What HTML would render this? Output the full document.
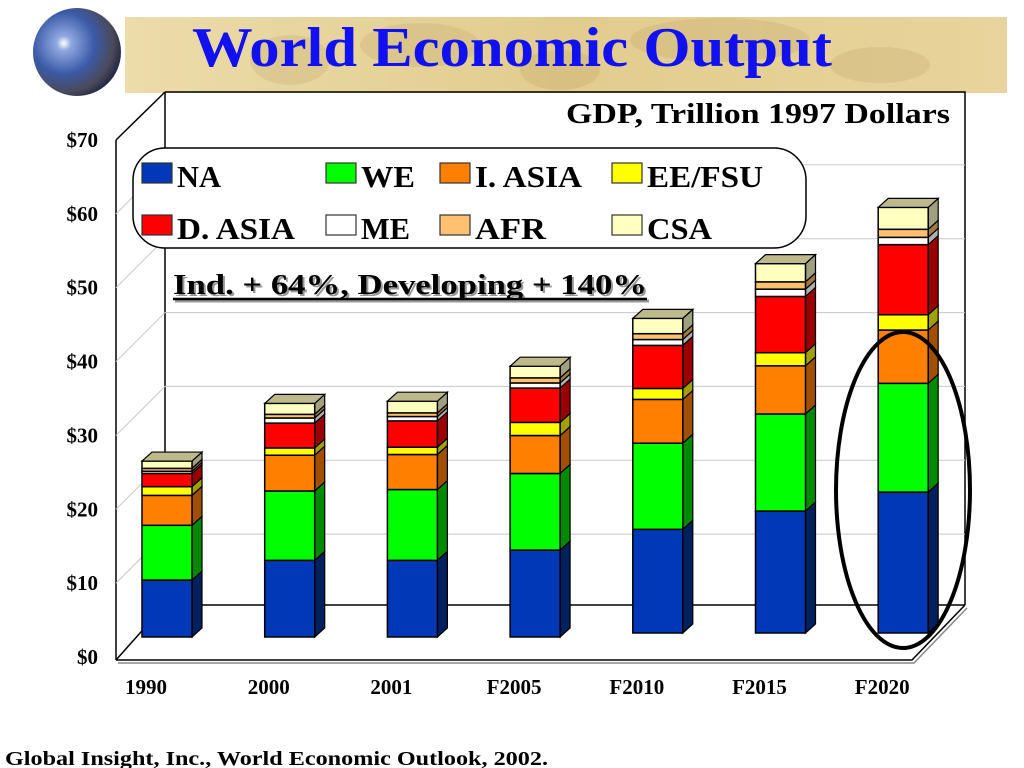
<!DOCTYPE html>
<html><head><meta charset="utf-8"><style>
html,body{margin:0;padding:0;background:#fff;}
svg{display:block;font-family:"Liberation Serif","Times New Roman",serif;font-weight:bold;}
</style></head><body>
<svg id="chart" width="1024" height="768" viewBox="0 0 1024 768" xmlns="http://www.w3.org/2000/svg">
<defs>
<radialGradient id="globe" cx="0.35" cy="0.4" r="0.7">
<stop offset="0" stop-color="#ffffff"/><stop offset="0.12" stop-color="#8fa8e0"/><stop offset="0.5" stop-color="#3b5aa8"/><stop offset="0.8" stop-color="#4a4a5a"/><stop offset="1" stop-color="#1b2040"/></radialGradient>
<linearGradient id="banner" x1="0" x2="1" y1="0" y2="0"><stop offset="0" stop-color="#ecdcaa"/><stop offset="0.5" stop-color="#e2cc8e"/><stop offset="1" stop-color="#e8d49c"/></linearGradient>
</defs>
<rect x="125" y="17" width="882" height="76" fill="url(#banner)"/>
<g opacity="0.15" fill="#a08040">
<ellipse cx="420" cy="45" rx="60" ry="22"/><ellipse cx="560" cy="70" rx="40" ry="20"/><ellipse cx="720" cy="40" rx="90" ry="22"/><ellipse cx="880" cy="65" rx="50" ry="18"/><ellipse cx="290" cy="60" rx="40" ry="25"/>
</g>
<circle cx="77" cy="52" r="44" fill="url(#globe)"/>
<text x="512" y="66" text-anchor="middle" font-size="56" fill="#1010f0" textLength="640" lengthAdjust="spacingAndGlyphs">World Economic Output</text>

<g id="frame" stroke="#000" stroke-width="1.5" fill="none"></g>
<g id="grid" stroke="#c8c8c8" stroke-width="1" fill="none"></g>
<g id="bars"></g>
<g id="yticks"></g>
<g id="xticks"></g>

<text x="950" y="123" text-anchor="end" font-size="28" textLength="384" lengthAdjust="spacingAndGlyphs">GDP, Trillion 1997 Dollars</text>

<g>
<rect x="133" y="148" width="673" height="100" rx="32" fill="#fff" stroke="#000" stroke-width="1.5"/>
<g id="legend-items"></g>
</g>

<g>
<text x="175" y="296" font-size="29" fill="#999" textLength="474" lengthAdjust="spacingAndGlyphs">Ind. + 64%,  Developing + 140%</text>
<line x1="175" y1="301" x2="649" y2="301" stroke="#999" stroke-width="3"/>
<text x="173" y="294" font-size="29" fill="#000" textLength="474" lengthAdjust="spacingAndGlyphs">Ind. + 64%,  Developing + 140%</text>
<line x1="173" y1="299" x2="647" y2="299" stroke="#000" stroke-width="2.5"/>
</g>

<ellipse cx="903" cy="490" rx="67" ry="158" fill="none" stroke="#000" stroke-width="4"/>

<text x="5" y="765" font-size="20" textLength="543" lengthAdjust="spacingAndGlyphs">Global Insight, Inc., World Economic Outlook, 2002.</text>
</svg>
<script>
const categories = ["1990","2000","2001","F2005","F2010","F2015","F2020"];
const seriesNames = ["NA","WE","I. ASIA","EE/FSU","D. ASIA","ME","AFR","CSA"];
const NA    = [7.8, 10.5, 10.5, 11.9, 14.2, 16.7, 19.3];
const WE    = [7.5, 9.5, 9.7, 10.5, 11.8, 13.3, 14.9];
const IASIA = [4.1, 4.9, 4.8, 5.2, 6.0, 6.6, 7.3];
const EEFSU = [1.2, 1.0, 1.0, 1.8, 1.5, 1.8, 2.1];
const DASIA = [1.8, 3.4, 3.6, 4.7, 5.9, 7.7, 9.6];
const ME    = [0.3, 0.7, 0.6, 0.7, 0.8, 1.0, 1.0];
const AFR   = [0.4, 0.5, 0.5, 0.7, 0.8, 1.0, 1.1];
const CSA   = [1.0, 1.5, 1.6, 1.6, 2.1, 2.5, 3.0];
const yTicks = [0,10,20,30,40,50,60,70];
const yTickLabels = ["$0","$10","$20","$30","$40","$50","$60","$70"];

const series = [NA,WE,IASIA,EEFSU,DASIA,ME,AFR,CSA];
const front = ["#0038b8","#00ff00","#ff8000","#ffff00","#ff0000","#ffffff","#ffc070","#ffffc0"];
const side  = ["#00205e","#008a00","#a05000","#a0a000","#9a0000","#b0b0b0","#a07840","#a0a080"];
const NS="http://www.w3.org/2000/svg";
function mk(tag, attrs, parent){const e=document.createElementNS(NS,tag);for(const k in attrs)e.setAttribute(k,attrs[k]);parent.appendChild(e);return e;}

// axis functions
const PX=7.3;
function base(i){return i<4 ? 637 : 633;}
function yBar(i,v){return base(i) - v*PX;}
function yAxis(v){return 657 - v*(517/70);}
function xBar(i){return 142 + i*122.7;}
const BW=50, DX=10, DY=9;

const frame=document.getElementById('frame');
const grid=document.getElementById('grid');
yTicks.forEach(t=>{
  if(t===0||t===70) return;
  const yf=yAxis(t), yb=yf-49;
  const l=mk('polyline',{points:`116,${yf} 165,${yb} 965,${yb}`},grid);
  
  
});
["116,140 116,660","165,92 165,605","165,92 965,92 965,605","116,140 165,92","165,605 965,605","116,660 165,605","116,660 912,660 965,605"].forEach(p=>{
  mk('polyline',{points:p},frame);
});
mk('polyline',{points:"118,663 914,663 967,608",stroke:"#888"},frame);

const bars=document.getElementById('bars');
categories.forEach((c,i)=>{
  const g=mk('g',{},bars);
  
  
  const x=xBar(i);
  let cum=0;
  series.forEach((s,k)=>{
    const v=s[i];
    const y0=yBar(i,cum), y1=yBar(i,cum+v);
    const seg=mk('g',{},g);
    
    
    mk('polygon',{points:`${x+BW},${y0} ${x+BW+DX},${y0-DY} ${x+BW+DX},${y1-DY} ${x+BW},${y1}`,fill:side[k],stroke:'#000','stroke-width':1.2},seg);
    mk('rect',{x:x,y:y1,width:BW,height:y0-y1,fill:front[k],stroke:'#000','stroke-width':1.5},seg);
    cum+=v;
  });
  const yt=yBar(i,cum);
  const top=mk('polygon',{points:`${x},${yt} ${x+DX},${yt-DY} ${x+BW+DX},${yt-DY} ${x+BW},${yt}`,fill:'#bdb98a',stroke:'#000','stroke-width':1.2},g);
  
  
  const t=mk('text',{x:x+4,y:694,'text-anchor':'middle','font-size':21},document.getElementById('xticks'));
  
  
  t.textContent=c;
});

yTicks.forEach((v,i)=>{
  const t=mk('text',{x:98,y:yAxis(v)+7,'text-anchor':'end','font-size':21},document.getElementById('yticks'));
  
  
  t.textContent=yTickLabels[i];
});

const lx=[142,326,440,612], lw=[44,54,107,116,118,49,71,65];
const li=document.getElementById('legend-items');
seriesNames.forEach((n,k)=>{
  const col=k%4,row=Math.floor(k/4);
  const g=mk('g',{},li);
  
  
  const sy=row?215:163;
  mk('rect',{x:lx[col],y:sy,width:30,height:20,fill:front[k],stroke:'#333','stroke-width':1.2},g);
  const t=mk('text',{x:lx[col]+35,y:sy+24,'font-size':31,textLength:lw[k],lengthAdjust:'spacingAndGlyphs'},g);
  t.textContent=n;
});
</script>
</body></html>
